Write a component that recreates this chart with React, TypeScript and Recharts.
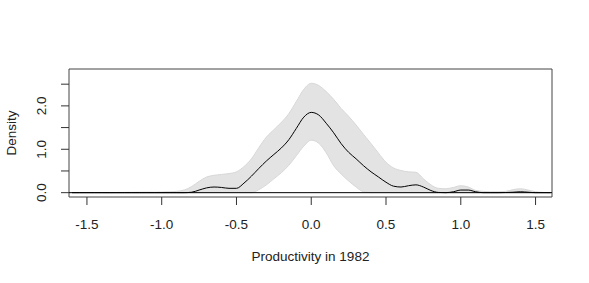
import React from 'react';
import {
  ComposedChart,
  Area,
  Line,
  XAxis,
  YAxis,
  ReferenceLine,
  ReferenceArea,
  Label,
} from 'recharts';

// Grid of productivity values (x)
const xValues = [
  -1.6, -1.55, -1.5, -1.45, -1.4, -1.35, -1.3, -1.25, -1.2, -1.15, -1.1, -1.05,
  -1.0, -0.95, -0.9, -0.85, -0.8, -0.75, -0.7, -0.65, -0.6, -0.55, -0.5, -0.45,
  -0.4, -0.35, -0.3, -0.25, -0.2, -0.15, -0.1, -0.05, 0, 0.05, 0.1, 0.15, 0.2,
  0.25, 0.3, 0.35, 0.4, 0.45, 0.5, 0.55, 0.6, 0.65, 0.7, 0.75, 0.8, 0.85, 0.9,
  0.95, 1.0, 1.05, 1.1, 1.15, 1.2, 1.25, 1.3, 1.35, 1.4, 1.45, 1.5, 1.55, 1.6,
];

// Estimated density
const densityFit = [
  0, 0, 0, 0, 0, 0, 0, 0, 0, 0, 0, 0,
  0, 0, 0, 0, 0.01, 0.06, 0.11, 0.13, 0.12, 0.1, 0.1, 0.22,
  0.38, 0.56, 0.73, 0.88, 1.03, 1.22, 1.48, 1.74, 1.85, 1.79, 1.6, 1.38, 1.13,
  0.93, 0.78, 0.62, 0.48, 0.36, 0.24, 0.15, 0.13, 0.16, 0.18, 0.13, 0.05, 0.005, 0,
  0.02, 0.06, 0.06, 0.02, 0, 0, 0, 0.003, 0.01, 0.02, 0.01, 0, 0, 0,
];

// Lower confidence band
const densityLower = [
  0, 0, 0, 0, 0, 0, 0, 0, 0, 0, 0, 0,
  0, 0, 0, 0, 0, 0, 0, 0, 0, 0, 0, 0,
  0, 0.07, 0.18, 0.32, 0.46, 0.63, 0.85, 1.07, 1.21, 1.14, 0.92, 0.62, 0.43,
  0.27, 0.13, 0.02, 0, 0, 0, 0, 0, 0, 0, 0, 0, 0, 0,
  0, 0, 0, 0, 0, 0, 0, 0, 0, 0, 0, 0, 0, 0,
];

// Upper confidence band
const densityUpper = [
  0, 0.002, 0.004, 0.004, 0.003, 0.002, 0.003, 0.006, 0.008, 0.01, 0.012, 0.01,
  0.015, 0.02, 0.03, 0.06, 0.14, 0.26, 0.36, 0.4, 0.42, 0.44, 0.48, 0.6,
  0.78, 1.04, 1.28, 1.45, 1.62, 1.82, 2.1, 2.38, 2.52, 2.47, 2.33, 2.15, 1.94,
  1.76, 1.56, 1.34, 1.13, 0.91, 0.7, 0.57, 0.51, 0.48, 0.47, 0.32, 0.18, 0.1, 0.09,
  0.12, 0.16, 0.13, 0.05, 0.03, 0.02, 0.02, 0.03, 0.07, 0.09, 0.06, 0.02, 0.005, 0,
];

const xTicks = [-1.5, -1.0, -0.5, 0, 0.5, 1.0, 1.5];
const yTicks = [0, 0.5, 1.0, 1.5, 2.0, 2.5];
const xDomain: [number, number] = [-1.62, 1.61];
const yDomain: [number, number] = [-0.1, 2.85];

const data = xValues.map((x, i) => ({
  x,
  fit: densityFit[i],
  band: [densityLower[i], densityUpper[i]],
}));

const FONT = '"Liberation Sans", Arial, sans-serif';
const TEXT_COLOR = '#222';
const FONT_SIZE = 13.5;

const YTick = (props: any) => {
  const { y, payload } = props;
  const v = payload.value;
  if (Math.abs(v - Math.round(v)) > 1e-9) return <g />;
  const tx = 42;
  return (
    <text
      x={tx}
      y={y}
      transform={`rotate(-90 ${tx} ${y})`}
      textAnchor="middle"
      dominantBaseline="central"
      fill={TEXT_COLOR}
      fontSize={FONT_SIZE}
      fontFamily={FONT}
    >
      {v.toFixed(1)}
    </text>
  );
};

const XLabel = (props: any) => {
  const vb = props.viewBox;
  return (
    <text
      x={vb.x + vb.width / 2}
      y={vb.y + 63.5}
      textAnchor="middle"
      fill={TEXT_COLOR}
      fontSize={FONT_SIZE}
      fontFamily={FONT}
    >
      Productivity in 1982
    </text>
  );
};

const YLabel = (props: any) => {
  const vb = props.viewBox;
  const tx = 11.5;
  const ty = vb.y + vb.height / 2;
  return (
    <text
      x={tx}
      y={ty}
      transform={`rotate(-90 ${tx} ${ty})`}
      textAnchor="middle"
      dominantBaseline="central"
      fill={TEXT_COLOR}
      fontSize={FONT_SIZE}
      fontFamily={FONT}
    >
      Density
    </text>
  );
};

export default function App() {
  return (
    <div style={{ position: 'absolute', left: 0, top: 0, background: '#fff' }}>
      <ComposedChart
        width={589}
        height={283}
        data={data}
        margin={{ top: 69, right: 37, bottom: 16, left: 0 }}
      >
        <XAxis
          dataKey="x"
          type="number"
          domain={xDomain}
          ticks={xTicks}
          interval={0}
          allowDataOverflow
          height={70}
          tickSize={8}
          tickMargin={14}
          axisLine={false}
          tickLine={{ stroke: '#333' }}
          tick={{ fill: TEXT_COLOR, fontSize: FONT_SIZE, fontFamily: FONT }}
          tickFormatter={(v: number) => v.toFixed(1)}
        >
          <Label content={XLabel} />
        </XAxis>
        <YAxis
          type="number"
          domain={yDomain}
          ticks={yTicks}
          interval={0}
          allowDataOverflow
          width={69}
          tickSize={8}
          axisLine={false}
          tickLine={{ stroke: '#333' }}
          tick={<YTick />}
        >
          <Label content={YLabel} />
        </YAxis>
        <Area
          dataKey="band"
          type="monotone"
          fill="#e3e3e3"
          fillOpacity={1}
          stroke="#d8d8d8"
          strokeWidth={1}
          dot={false}
          activeDot={false}
          isAnimationActive={false}
        />
        <ReferenceLine y={0} stroke="#000" strokeWidth={1} />
        <Line
          dataKey="fit"
          type="monotone"
          stroke="#000"
          strokeWidth={1}
          dot={false}
          activeDot={false}
          isAnimationActive={false}
        />
        <ReferenceArea
          x1={xDomain[0]}
          x2={xDomain[1]}
          y1={yDomain[0]}
          y2={yDomain[1]}
          fill="none"
          fillOpacity={0}
          stroke="#444"
          strokeWidth={1}
          ifOverflow="extendDomain"
        />
      </ComposedChart>
    </div>
  );
}
